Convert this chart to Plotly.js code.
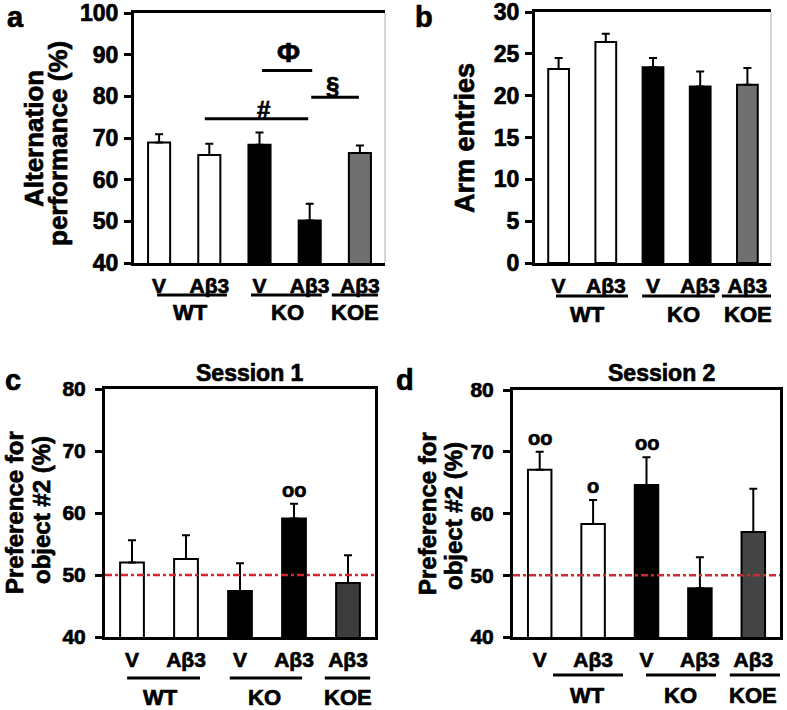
<!DOCTYPE html>
<html>
<head>
<meta charset="utf-8">
<script src="https://cdn.plot.ly/plotly-3.0.1.min.js"></script>
<style>
html,body{margin:0;padding:0;background:#fff;}
#chart{width:787px;height:710px;}
#chart svg text{stroke:#000;stroke-width:0.7px;}
</style>
</head>
<body>
<div id="chart"></div>
<script>
// ---------- DATA ----------
const categories = ['WT V', 'WT Aβ3', 'KO V', 'KO Aβ3', 'KOE Aβ3'];
const treatments = ['V', 'Aβ3', 'V', 'Aβ3', 'Aβ3'];
const groups = ['WT', 'KO', 'KOE'];

const altMean = [68.9, 65.9, 68.4, 50.2, 66.4];
const altSem  = [2.0, 2.7, 2.9, 4.0, 1.8];
const armMean = [23.2, 26.4, 23.4, 21.1, 21.3];
const armSem  = [1.3, 1.0, 1.1, 1.8, 2.0];
const s1Mean  = [52.0, 52.6, 47.4, 59.1, 48.7];
const s1Sem   = [3.6, 3.8, 4.5, 2.4, 4.5];
const s2Mean  = [67.1, 58.3, 64.6, 47.9, 57.0];
const s2Sem   = [2.9, 3.9, 4.5, 5.0, 7.0];
const s1Marks = ['', '', '', 'oo', ''];
const s2Marks = ['oo', 'o', 'oo', '', ''];
const chanceLevel = 50;
const sigSymbols = ['#', 'Φ', '§'];
const sigLevels = [74.6, 86.2, 79.8];

// ---------- LAYOUT ----------
const W = 787, H = 710;
const FONT = 'Liberation Sans, Arial, sans-serif';
const fx = px => px / W;
const fy = px => 1 - px / H;
const b = s => '<b>' + s + '</b>';
const fnt = sz => ({family: FONT, size: sz, color: '#000', weight: 700});

const panels = [
  {id: '', letter: 'a', L: 134, R: 385, T: 13, B: 263, range: [40, 100], dtick: 10,
   mean: altMean, sem: altSem, fills: ['#ffffff', '#ffffff', '#000000', '#000000', '#707070'],
   tickSize: 23, tickStand: 1, frame: 'open', titleSize: 26,
   titles: [{t: 'Alternation', x: 34, y: 139}, {t: 'performance (%)', x: 58, y: 143}],
   letterPos: [15, 17],
   gl: [[-0.04, 1.35, 0.62], [1.83, 3.24, 2.55], [3.44, 4.36, 3.90]], glY: 32, gtY: 50},
  {id: '2', letter: 'b', L: 535, R: 771, T: 12, B: 263, range: [0, 30], dtick: 5,
   mean: armMean, sem: armSem, fills: ['#ffffff', '#ffffff', '#000000', '#000000', '#707070'],
   tickSize: 23, tickStand: 1, frame: 'open', titleSize: 27,
   titles: [{t: 'Arm entries', x: 465, y: 138}],
   letterPos: [424, 17],
   gl: [[-0.055, 1.47, 0.62], [1.77, 3.31, 2.64], [3.46, 4.58, 4.01]], glY: 33, gtY: 51},
  {id: '3', letter: 'c', L: 105, R: 375, T: 389, B: 637, range: [40, 80], dtick: 10,
   mean: s1Mean, sem: s1Sem, fills: ['#ffffff', '#ffffff', '#000000', '#000000', '#3c3c3c'],
   tickSize: 21, tickStand: 5, frame: 'box', marks: s1Marks, session: 'Session 1', sessX: 250, titleSize: 24,
   titles: [{t: 'Preference for', x: 14, y: 513}, {t: 'object #2 (%)', x: 41, y: 510}],
   letterPos: [13, 380],
   gl: [[-0.09, 1.26, 0.52], [1.81, 3.15, 2.46], [3.57, 4.41, 4.0]], glY: 41, gtY: 60},
  {id: '4', letter: 'd', L: 513, R: 780, T: 390, B: 637, range: [40, 80], dtick: 10,
   mean: s2Mean, sem: s2Sem, fills: ['#ffffff', '#ffffff', '#000000', '#000000', '#444444'],
   tickSize: 21, tickStand: 5, frame: 'box', marks: s2Marks, session: 'Session 2', sessX: 661, titleSize: 24,
   titles: [{t: 'Preference for', x: 427, y: 513}, {t: 'object #2 (%)', x: 453, y: 516}],
   letterPos: [405, 380],
   gl: [[0.25, 1.56, 0.89], [1.99, 3.30, 2.63], [3.56, 4.56, 3.99]], glY: 38, gtY: 58}
];

const data = [];
const layout = {
  width: W, height: H, margin: {l: 0, r: 0, t: 0, b: 0},
  paper_bgcolor: '#ffffff', plot_bgcolor: '#ffffff',
  showlegend: false,
  font: fnt(14),
  shapes: [], annotations: []
};

panels.forEach(p => {
  const xa = 'x' + p.id, ya = 'y' + p.id;
  const xk = 'xaxis' + p.id, yk = 'yaxis' + p.id;
  const hpx = p.B - p.T;
  const yvals = [];
  for (let v = p.range[0]; v <= p.range[1] + 1e-9; v += p.dtick) yvals.push(v);
  data.push({
    type: 'bar', x: categories, y: p.mean, xaxis: xa, yaxis: ya, width: 0.44,
    marker: {color: p.fills, line: {color: '#000', width: 2}},
    error_y: {type: 'data', symmetric: false, array: p.sem, arrayminus: p.sem.map(() => 0),
              color: '#000', thickness: 2, width: 4},
    hoverinfo: 'skip'
  });
  layout[xk] = {
    domain: [fx(p.L), fx(p.R)], anchor: ya, type: 'category', range: [-0.5, 4.5],
    tickvals: categories, ticktext: treatments.map(b), ticks: '', showgrid: false,
    showline: true, linecolor: '#000', linewidth: 3, mirror: true,
    tickfont: fnt(21), ticklabelstandoff: 2, fixedrange: true, zeroline: false,
    ticklabeloverflow: 'allow'
  };
  layout[yk] = {
    domain: [fy(p.B), fy(p.T)], anchor: xa, range: [p.range[0], p.range[1] + 0.0001],
    tickvals: yvals, ticktext: yvals.map(v => b(String(v))),
    ticks: 'outside', ticklen: 7, tickwidth: 3, tickcolor: '#000',
    showgrid: false, zeroline: false, showline: true, linecolor: '#000', linewidth: 3,
    mirror: p.frame === 'box', tickfont: fnt(p.tickSize), fixedrange: true,
    ticklabeloverflow: 'allow', ticklabelstandoff: p.tickStand
  };
  if (p.frame === 'open') {
    layout.shapes.push({type: 'line', xref: xa + ' domain', yref: ya + ' domain',
      x0: 1, x1: 1, y0: 0, y1: 1, line: {color: '#c8c8c8', width: 1.5}});
  }
  groups.forEach((g, i) => {
    const [x0, x1, xt] = p.gl[i];
    layout.shapes.push({type: 'line', xref: xa, yref: ya + ' domain',
      x0: x0, x1: x1, y0: -p.glY / hpx, y1: -p.glY / hpx, line: {color: '#000', width: 3}});
    layout.annotations.push({xref: xa, yref: ya + ' domain', x: xt, y: -p.gtY / hpx,
      text: b(g), showarrow: false, xanchor: 'center', yanchor: 'middle', font: fnt(22)});
  });
  p.titles.forEach(t => {
    layout.annotations.push({xref: 'paper', yref: 'paper', x: fx(t.x), y: fy(t.y),
      text: b(t.t), textangle: -90, showarrow: false, xanchor: 'center', yanchor: 'middle',
      font: fnt(p.titleSize)});
  });
  layout.annotations.push({xref: 'paper', yref: 'paper', x: fx(p.letterPos[0]), y: fy(p.letterPos[1]),
    text: b(p.letter), showarrow: false, xanchor: 'center', yanchor: 'middle', font: fnt(29)});
  if (p.session) {
    layout.annotations.push({xref: 'paper', yref: 'paper', x: fx(p.sessX), y: fy(373),
      text: b(p.session), showarrow: false, xanchor: 'center', yanchor: 'middle', font: fnt(23)});
    layout.shapes.push({type: 'line', xref: xa + ' domain', yref: ya, x0: 0, x1: 1,
      y0: chanceLevel, y1: chanceLevel, layer: 'above',
      line: {color: '#d4262c', width: 2.5, dash: '7px,3px,3px,3px'}});
    p.marks.forEach((m, i) => {
      if (!m) return;
      layout.annotations.push({xref: xa, yref: ya, x: i, y: p.mean[i] + p.sem[i],
        text: b(m), showarrow: false, xanchor: 'center', yanchor: 'middle', yshift: 14,
        font: fnt(20)});
    });
  }
});

// significance brackets in panel a
const sigLines = [[0.91, 2.97, 2.07, 9, 24], [2.05, 3.05, 2.57, 18, 28], [3.03, 3.98, 3.46, 12, 24]];
sigSymbols.forEach((s, i) => {
  const [x0, x1, xt, dy, sz] = sigLines[i];
  layout.shapes.push({type: 'line', xref: 'x', yref: 'y', x0: x0, x1: x1,
    y0: sigLevels[i], y1: sigLevels[i], line: {color: '#000', width: 3}});
  layout.annotations.push({xref: 'x', yref: 'y', x: xt, y: sigLevels[i], yshift: dy,
    text: b(s), showarrow: false, xanchor: 'center', yanchor: 'middle', font: fnt(sz)});
});

Plotly.newPlot('chart', data, layout, {staticPlot: true, displayModeBar: false});
</script>
</body>
</html>
